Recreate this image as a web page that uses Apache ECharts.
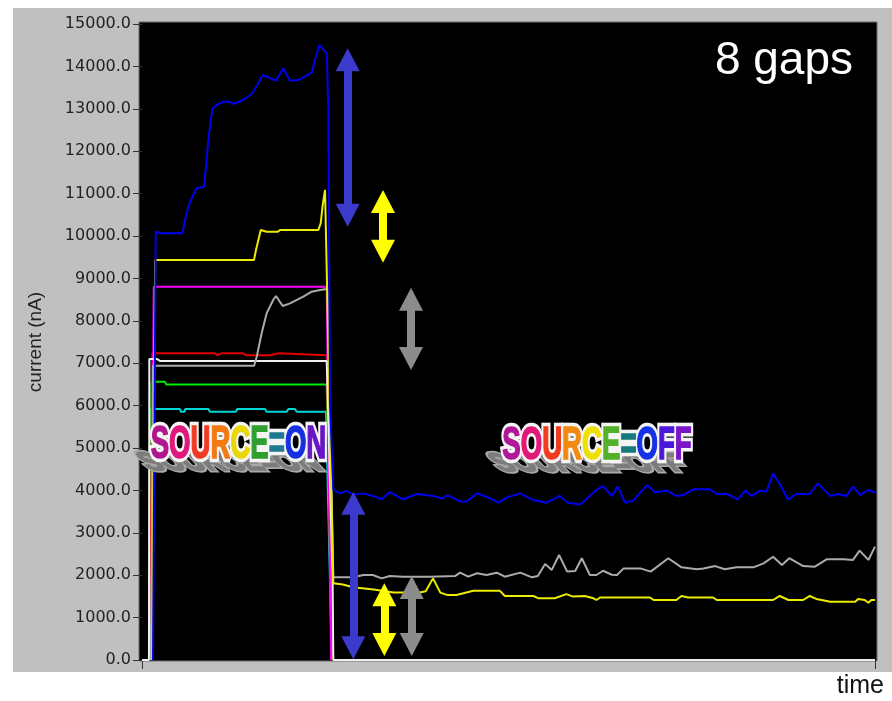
<!DOCTYPE html>
<html><head><meta charset="utf-8">
<script src="https://cdn.jsdelivr.net/npm/echarts@6/dist/echarts.min.js"></script>
<style>html,body{margin:0;padding:0;background:#fff}#c{width:892px;height:701px}</style>
</head><body><div id="c"></div>
<script>
// ---- axis settings ----
const yMin = 0, yMax = 15000, yStep = 1000;
const tMin = 0, tMax = 100;
const yName = 'current (nA)';
const xName = 'time';
const note = '8 gaps';

// ---- series values: [time, current nA] ----
const whiteCh = [[0,0],[0.95,0],[1.0,7100],[2.0,7100],[2.5,7050],[25.2,7050],[26.0,1950],[26.1,0],[100,0]];
const cyanCh = [[1.0,0],[1.2,5920],[5.18,5920],[5.3,5857],[5.8,5857],[5.9,5920],[9.05,5920],[9.28,5857],[12.82,5857],[13.0,5920],[16.78,5920],[17.0,5857],[19.74,5857],[19.96,5920],[20.87,5920],[21.1,5857],[25.1,5857],[25.9,0]];
const greenCh = [[1.05,0],[1.3,6565],[3.1,6565],[3.3,6500],[25.2,6500],[25.9,0]];
const redCh = [[1.1,0],[1.4,7233],[9.96,7233],[10.27,7186],[10.87,7233],[12.0,7233],[12.24,7186],[12.8,7233],[13.8,7233],[14.2,7186],[17.5,7186],[17.7,7233],[18.6,7233],[18.8,7186],[25.2,7186],[25.9,0]];
const greyOn = [[1.2,0],[1.5,6942],[15.3,6942],[15.65,7154],[16.33,7712],[17.01,8180],[17.9,8490],[18.28,8585],[19.2,8350],[20.2,8412],[22.0,8569],[23.15,8687],[24.3,8726],[24.97,8743],[25.3,8743]];
const greyOff = [[26.1,1950],[28.8,1950],[30.2,2005],[31.5,2005],[32.7,1925],[33.8,1980],[35.6,1965],[39.3,1965],[42.7,1980],[43.4,2060],[44.5,1965],[45.7,2045],[47.0,2005],[48.4,2060],[49.5,1965],[51.6,2060],[53.2,1950],[54.0,1980],[55.0,2265],[55.9,2125],[56.9,2475],[58.0,2085],[59.1,2100],[60.0,2400],[61.1,2005],[62.0,2005],[62.9,2105],[64.1,2010],[64.8,2005],[65.7,2160],[68.0,2160],[69.4,2085],[71.8,2400],[73.6,2185],[75.7,2140],[76.6,2160],[78.2,2215],[79.5,2140],[81.1,2185],[83.4,2185],[84.8,2280],[86.1,2435],[87.3,2240],[88.3,2400],[90.2,2215],[91.8,2200],[93.4,2375],[95.7,2375],[97.0,2360],[97.9,2580],[99.1,2360],[100,2675]];
const magentaCh = [[1.3,0],[1.6,8805],[25.2,8805],[25.8,0]];
const yellowOn = [[1.4,0],[1.8,9434],[15.28,9434],[15.55,9670],[16.2,10140],[16.47,10140],[17.0,10100],[18.55,10100],[18.83,10140],[24.05,10140],[24.38,10300],[24.65,10730],[24.97,11085],[25.2,11120]];
const yellowOff = [[26.1,1810],[27.4,1780],[28.8,1715],[31.6,1665],[34.3,1590],[37.9,1590],[38.7,1620],[39.7,1925],[40.7,1590],[41.6,1535],[42.9,1535],[45.2,1635],[48.8,1635],[49.5,1510],[53.4,1510],[54.1,1455],[56.3,1455],[57.9,1555],[58.8,1495],[60.4,1510],[61.6,1455],[62.0,1415],[62.5,1475],[69.3,1475],[69.8,1415],[72.9,1415],[73.6,1510],[74.5,1475],[77.9,1475],[78.4,1415],[86.1,1415],[87.0,1510],[88.2,1415],[90.2,1415],[91.1,1510],[92.0,1440],[93.9,1375],[97.3,1375],[97.7,1440],[98.6,1415],[99.1,1350],[99.5,1415],[100,1415]];
const blueOn = [[1.5,0],[1.87,10100],[2.69,10063],[5.5,10063],[5.87,10377],[6.32,10692],[6.78,10889],[7.46,11125],[8.46,11163],[8.73,11635],[9.05,12264],[9.37,12736],[9.65,13012],[10.19,13090],[11.09,13168],[12.0,13168],[12.46,13113],[13.82,13208],[14.97,13349],[15.87,13601],[16.47,13797],[18.28,13663],[19.28,13955],[20.19,13663],[21.32,13679],[23.15,13851],[23.6,14151],[24.19,14505],[25.2,14309],[25.42,13019],[25.65,6000]];
const blueOff = [[26.1,4010],[27.0,3930],[27.9,3990],[28.8,3900],[30.2,3930],[31.5,3870],[32.7,3790],[33.8,3960],[35.6,3790],[37.5,3915],[39.7,3870],[40.9,3810],[41.7,3885],[43.4,3740],[44.3,3740],[45.7,3930],[47.0,3850],[48.6,3710],[49.8,3835],[51.6,3930],[53.3,3775],[55.2,3710],[57.0,3870],[58.1,3710],[59.8,3665],[62.0,4010],[62.9,4100],[64.1,3870],[64.9,4090],[65.9,3710],[67.0,3760],[68.9,4125],[70.0,3955],[71.6,3995],[72.9,3870],[73.8,3890],[75.2,4025],[77.5,4025],[78.4,3915],[79.8,3915],[81.3,3790],[82.3,3995],[83.2,3870],[84.3,3995],[85.2,3970],[86.1,4405],[87.2,4090],[88.1,3790],[89.3,3915],[91.1,3915],[92.2,4165],[93.9,3870],[94.9,3915],[96.1,3870],[97.0,4090],[98.0,3890],[99.0,4010],[100,3955]];

// ---- gap arrows: [time, from, to] (arrow-head centres) ----
const arrowBlueTop = [28.06, 14156, 10490];
const arrowYellowTop = [32.88, 10814, 9641];
const arrowGreyTop = [36.7, 8510, 7111];
const arrowBlueBot = [28.83, 3698, 288];
const arrowYellowBot = [33.06, 1538, 365];
const arrowGreyBot = [36.8, 1710, 365];

const onLetters = ['S','O','U','R','C','E','=','O','N'];
const onColors = ['#b0178f','#e0187c','#f03a24','#f27a12','#e8d800','#2ea030','#1e7890','#1530e0','#6a14c8'];
const offLetters = ['S','O','U','R','C','E','=','O','F','F'];
const offColors = ['#b0179a','#e01878','#f03c1e','#f28a12','#eee000','#52b02a','#167a7c','#1632e6','#4a16dc','#7a16c8'];

function richText(letters, colors, lw) {
  const rich = {};
  let s = '';
  letters.forEach((l, i) => {
    s += '{c' + i + '|' + l + '}';
    const f = colors[i] || colors[0];
    const st = { fill: f };
    if (lw) { st.stroke = f; st.lineWidth = lw; st.lineJoin = 'round'; }
    rich['c' + i] = st;
  });
  return { text: s, rich: rich };
}

const chart = echarts.init(document.getElementById('c'), null, { renderer: 'canvas' });

function lineSeries(name, color, data, extra) {
  return Object.assign({
    name: name, type: 'line', data: data, showSymbol: false, symbol: 'none',
    lineStyle: { color: color, width: 2 }, itemStyle: { color: color },
    animation: false, silent: true
  }, extra || {});
}
function arrow(a, color) {
  return [{ coord: [a[0], a[1]], lineStyle: { color: color, width: 8, type: 'solid', opacity: 1 }, itemStyle: { color: color } },
          { coord: [a[0], a[2]] }];
}

const srcFont = 'bold 46px "Liberation Sans", Arial, sans-serif';
function labelLayers(letters, colors, cx, cy) {
  const base = { font: srcFont, align: 'center', verticalAlign: 'middle' };
  return [
    { type: 'text', z: 47, x: cx - 8, y: cy + 18, scaleX: 0.6, scaleY: 0.55, skewX: 0.75,
      style: Object.assign({}, base, richText(letters, ['#a8a8a8'], 9)), silent: true },
    { type: 'text', z: 48, x: cx - 8, y: cy + 18, scaleX: 0.6, scaleY: 0.55, skewX: 0.75,
      style: Object.assign({}, base, richText(letters, ['#7c7c7c'], 3)), silent: true },
    { type: 'text', z: 49, x: cx, y: cy, scaleX: 0.6,
      style: Object.assign({}, base, richText(letters, ['#f4f4f4'], 8.5)), silent: true },
    { type: 'text', z: 50, x: cx, y: cy, scaleX: 0.6,
      style: Object.assign({}, base, richText(letters, colors, 1.6)), silent: true }
  ];
}

chart.setOption({
  backgroundColor: '#ffffff',
  animation: false,
  grid: { left: 142, right: 17, top: 24, bottom: 41, show: true, backgroundColor: '#000000', borderWidth: 0 },
  xAxis: {
    type: 'value', min: tMin, max: tMax, interval: 100, offset: 3,
    axisLine: { show: false }, axisLabel: { show: false }, splitLine: { show: false },
    axisTick: { show: true, length: 9, lineStyle: { color: '#333', width: 1 } },
    name: xName, nameLocation: 'end', nameGap: 9,
    nameTextStyle: { fontFamily: 'Liberation Sans', fontSize: 25, color: '#111', align: 'right', verticalAlign: 'top', padding: [14, 0, 0, 0] }
  },
  yAxis: {
    type: 'value', min: yMin, max: yMax, interval: yStep, offset: 5,
    axisLine: { show: false }, splitLine: { show: false },
    axisTick: { show: true, length: 9, lineStyle: { color: '#333', width: 1 } },
    axisLabel: { margin: 6, color: '#222', fontFamily: 'DejaVu Sans', fontSize: 16, formatter: v => v.toFixed(1) },
    name: yName, nameLocation: 'middle', nameGap: 92, nameRotate: 90,
    nameTextStyle: { fontFamily: 'Liberation Sans', fontSize: 19, color: '#222' }
  },
  graphic: [
    { type: 'rect', z: -20, shape: { x: 13, y: 8, width: 879, height: 664 }, style: { fill: '#c0c0c0' }, silent: true },
    { type: 'rect', z: -19, shape: { x: 139, y: 22, width: 738, height: 639 }, style: { fill: '#000000', stroke: '#707070', lineWidth: 1 }, silent: true },
    { type: 'text', z: 50, x: 853, y: 61, style: { text: note, font: '46px "Liberation Sans", Arial, sans-serif', fill: '#ffffff', align: 'right', verticalAlign: 'middle' }, silent: true }
  ].concat(labelLayers(onLetters, onColors, 238.5, 445), labelLayers(offLetters, offColors, 597, 446)),
  series: [
    lineSeries('ch-cyan', '#00d8d8', cyanCh),
    lineSeries('ch-green', '#00ee00', greenCh),
    lineSeries('ch-red', '#e00000', redCh),
    lineSeries('ch-magenta', '#ff00ff', magentaCh),
    lineSeries('ch-white', '#f0f0f0', whiteCh),
    lineSeries('ch-grey', '#ababab', greyOn.concat(greyOff)),
    lineSeries('ch-yellow', '#ecec00', yellowOn.concat(yellowOff)),
    lineSeries('ch-blue', '#0000f0', blueOn.concat(blueOff), {
      markLine: {
        silent: true, animation: false,
        symbol: ['triangle', 'triangle'], symbolSize: [24, 23],
        label: { show: false }, emphasis: { disabled: true },
        data: [
          arrow(arrowBlueTop, '#3a3acc'), arrow(arrowYellowTop, '#ffff00'), arrow(arrowGreyTop, '#8c8c8c'),
          arrow(arrowBlueBot, '#3a3acc'), arrow(arrowYellowBot, '#ffff00'), arrow(arrowGreyBot, '#8c8c8c')
        ]
      }
    })
  ]
});
</script></body></html>
